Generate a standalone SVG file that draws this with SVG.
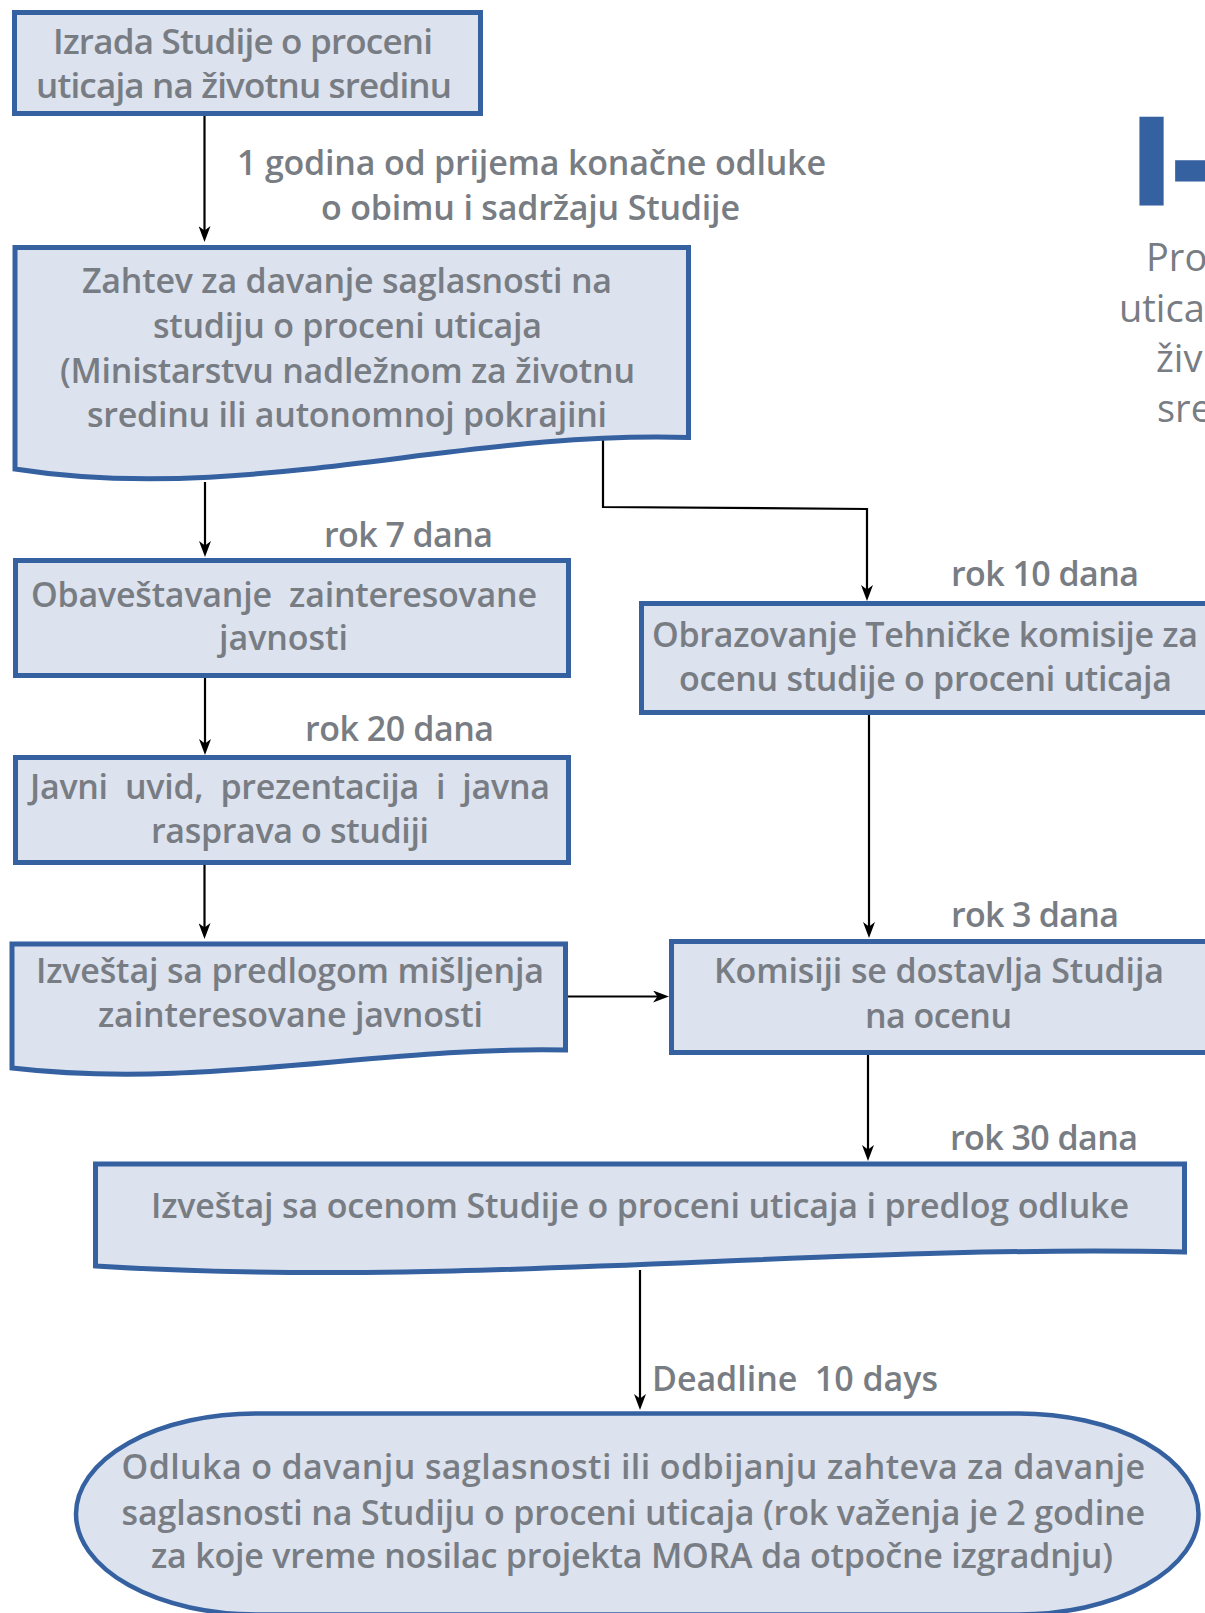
<svg xmlns="http://www.w3.org/2000/svg" width="1205" height="1613" viewBox="0 0 1205 1613">
<style>
.box{fill:#dce2ee;stroke:#3561a1;stroke-width:5}
.t{font-family:"Open Sans","Noto Sans","Liberation Sans",sans-serif;font-weight:600;font-size:34px;fill:#787c83}
.big{font-size:35px}
.side{font-family:"Open Sans","Noto Sans","Liberation Sans",sans-serif;font-weight:400;font-size:38px;fill:#787c83}
.conn{fill:none;stroke:#000;stroke-width:2.2}
</style>
<defs>
<marker id="ah" viewBox="0 0 16 12" markerWidth="16" markerHeight="12" refX="6" refY="6" orient="auto" markerUnits="userSpaceOnUse">
<path d="M16,6 L0,0 L4.5,6 L0,12 Z" fill="#000"/>
</marker>
</defs>
<rect width="1205" height="1613" fill="#fff"/>

<g id="title">
<text x="1135" y="201.5" font-family="'Liberation Sans',Arial,sans-serif" font-weight="700" font-size="119" fill="#3561a1" stroke="#3561a1" stroke-width="7">I<tspan dx="6">-</tspan></text>
<text class="side" x="1146" y="271">Pro</text>
<text class="side" x="1119" y="321.5">utica</text>
<text class="side" x="1156" y="371.5">živ</text>
<text class="side" x="1157" y="421.5">sre</text>
</g>

<g id="connectors">
<path class="conn" d="M204.5,116 V232" marker-end="url(#ah)"/>
<path class="conn" d="M205,482 V547" marker-end="url(#ah)"/>
<path class="conn" d="M205,678 V745" marker-end="url(#ah)"/>
<path class="conn" d="M204.5,865 V929" marker-end="url(#ah)"/>
<path class="conn" d="M603,440 V507 L867,509 V591" marker-end="url(#ah)"/>
<path class="conn" d="M568,996.5 H659" marker-end="url(#ah)"/>
<path class="conn" d="M869,715 V928" marker-end="url(#ah)"/>
<path class="conn" d="M868,1055 V1151" marker-end="url(#ah)"/>
<path class="conn" d="M640,1270 V1400" marker-end="url(#ah)"/>
</g>

<g id="labels">
<text class="t" x="237" y="175" textLength="589">1 godina od prijema konačne odluke</text>
<text class="t" x="321" y="220" textLength="419">o obimu i sadržaju Studije</text>
<text class="t" x="324" y="547" textLength="169">rok 7 dana</text>
<text class="t" x="305" y="741" textLength="189">rok 20 dana</text>
<text class="t" x="951" y="586" textLength="188">rok 10 dana</text>
<text class="t" x="951" y="927" textLength="168">rok 3 dana</text>
<text class="t" x="950" y="1150" textLength="188">rok 30 dana</text>
<text class="t" x="652" y="1391" textLength="286" xml:space="preserve">Deadline  10 days</text>
</g>

<g id="n1">
<rect class="box" x="14.5" y="12.5" width="466" height="101"/>
<text class="t big" x="53" y="53.5" textLength="380">Izrada Studije o proceni</text>
<text class="t big" x="36" y="98" textLength="416">uticaja na životnu sredinu</text>
</g>

<g id="n2">
<path class="box" d="M15,247.5 H688.5 V437.5 C462,430 243,505 15,469 Z"/>
<text class="t" x="82" y="293" textLength="530">Zahtev za davanje saglasnosti na</text>
<text class="t" x="153" y="338" textLength="389">studiju o proceni uticaja</text>
<text class="t" x="60" y="383" textLength="575">(Ministarstvu nadležnom za životnu</text>
<text class="t" x="87" y="427" textLength="520">sredinu ili autonomnoj pokrajini</text>
</g>

<g id="n3">
<rect class="box" x="15.5" y="560.5" width="553" height="115"/>
<text class="t" x="31" y="607" textLength="506" xml:space="preserve">Obaveštavanje  zainteresovane</text>
<text class="t" x="219" y="650" textLength="129">javnosti</text>
</g>

<g id="n4">
<rect class="box" x="641.5" y="603.5" width="600" height="109"/>
<text class="t" x="652" y="647" textLength="546">Obrazovanje Tehničke komisije za</text>
<text class="t" x="679" y="691" textLength="493">ocenu studije o proceni uticaja</text>
</g>

<g id="n5">
<rect class="box" x="15.5" y="757.5" width="553" height="105"/>
<text class="t" x="30" y="799" textLength="520" xml:space="preserve">Javni  uvid,  prezentacija  i  javna</text>
<text class="t" x="151" y="843" textLength="278">rasprava o studiji</text>
</g>

<g id="n6">
<path class="box" d="M12,944 H565.5 V1050 C380,1046 200,1090 12,1068 Z"/>
<text class="t" x="36" y="983" textLength="508">Izveštaj sa predlogom mišljenja</text>
<text class="t" x="98" y="1027" textLength="385">zainteresovane javnosti</text>
</g>

<g id="n7">
<rect class="box" x="671.5" y="941.5" width="600" height="111"/>
<text class="t" x="714" y="983" textLength="450">Komisiji se dostavlja Studija</text>
<text class="t" x="865" y="1028" textLength="147">na ocenu</text>
</g>

<g id="n8">
<path class="box" d="M95.5,1164 H1184.5 V1252 C818.6,1244 465.8,1289 95.5,1266 Z"/>
<text class="t" x="151" y="1218" textLength="978">Izveštaj sa ocenom Studije o proceni uticaja i predlog odluke</text>
</g>

<g id="n9">
<rect class="box" style="stroke-width:4.5" x="76" y="1413.5" width="1122.5" height="201" rx="180" ry="100.5"/>
<text class="t" x="121.5" y="1479" textLength="1023.5">Odluka o davanju saglasnosti ili odbijanju zahteva za davanje</text>
<text class="t" x="121.5" y="1525" textLength="1023.5">saglasnosti na Studiju o proceni uticaja (rok važenja je 2 godine</text>
<text class="t" x="151" y="1568" textLength="962">za koje vreme nosilac projekta MORA da otpočne izgradnju)</text>
</g>
</svg>
